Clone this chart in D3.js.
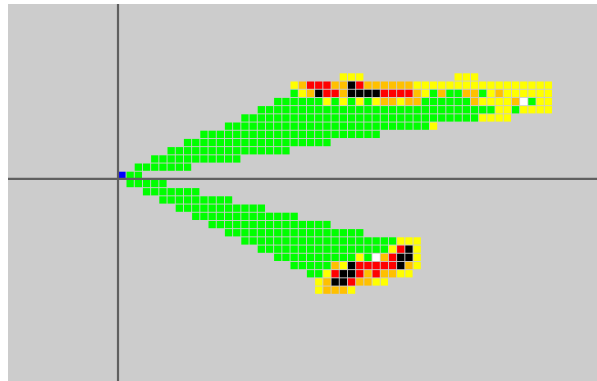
<!DOCTYPE html>
<html>
<head>
<meta charset="utf-8">
<script src="https://cdn.jsdelivr.net/npm/d3@7"></script>
<style>
  body { margin: 0; background: #ffffff; }
</style>
</head>
<body>
<div id="grid"></div>
<script>
// grid rows, top (-12) to bottom (14); row 0 holds the origin cell
var rowIds = [-12, -11, -10, -9, -8, -7, -6, -5, -4, -3, -2, -1, 0,
  1, 2, 3, 4, 5, 6, 7, 8, 9, 10, 11, 12, 13, 14];

// first column of each row
var rowStart = [27, 21, 21, 19, 17, 15, 13, 10, 8, 6, 4, 2, 0,
  1, 3, 5, 7, 9, 11, 13, 15, 17, 19, 21, 23, 24, 24];

// cell states from the first column on
// g=green y=yellow o=orange r=red k=black w=white b=blue .=empty
var rowCells = [
  "yyy...........yyy",
  "yorrrookroooooo" + "yyyyyyyyyyyyyyyyy",
  "gyokrrokkkkrrrr" + "oygoggoogyo" + "yyyyyy",
  "ggggggygygygyooyoo" + "ggggggoyyyyowgyy",
  "ggggggggggggggggggggggggggggg" + "yygyyyy",
  "ggggggggggggggggggggggggggggg" + "yyyy",
  "ggggggggggggggggggggggggg" + "y",
  "gggggggggggggggggggggg",
  "gggggggggggggggggg",
  "ggggggggggggggg",
  "ggggggggggg",
  "ggggggg",
  "bgg",
  "ggggg",
  "ggggggg",
  "ggggggggg",
  "ggggggggggg",
  "ggggggggggggg",
  "ggggggggggggggg",
  "ggggggggggggggggg",
  "ggggggggggggggggggg" + "yyy",
  "gggggggggggggggg" + "yrky",
  "gggggggggg" + "ygworkky",
  "ggggg" + "oykrrrrrkoy",
  "gg" + "yrkkrorooyy",
  "yokkrooyy",
  "yoooy"
];

var stateColor = {
  g: "#00ff00", y: "#ffff00", o: "#ffc000", r: "#ff0000",
  k: "#000000", w: "#ffffff", b: "#0000ff"
};

var width = 597, height = 381;
var pitch = 8.2;
var x0 = 118.3, y0 = 73.3;

var svg = d3.select("#grid")
  .append("svg")
    .attr("width", width)
    .attr("height", height);

// gray canvas
svg.append("rect")
  .attr("x", 8)
  .attr("y", 4)
  .attr("width", width - 8)
  .attr("height", height - 4)
  .attr("fill", "#cccccc");

// flatten rows into cells
var cells = [];
rowIds.forEach(function(r, i) {
  rowCells[i].split("").forEach(function(s, j) {
    if (s != ".") cells.push({ row: r, col: rowStart[i] + j, state: s });
  });
});

var x = d3.scaleLinear()
  .domain([0, 1])
  .range([x0, x0 + pitch]);

var y = d3.scaleLinear()
  .domain([-12, -11])
  .range([y0, y0 + pitch]);

svg.append("g")
  .selectAll("rect")
  .data(cells)
  .enter()
  .append("rect")
    .attr("x", function(d) { return x(d.col); })
    .attr("y", function(d) { return y(d.row); })
    .attr("width", pitch - 0.9)
    .attr("height", pitch - 0.9)
    .attr("fill", function(d) { return stateColor[d.state]; });

// axes through the origin cell
svg.append("line")
  .attr("x1", x(0) - 0.3).attr("x2", x(0) - 0.3)
  .attr("y1", 4).attr("y2", height)
  .attr("stroke", "#5f5f5f")
  .attr("stroke-width", 2.2);

svg.append("line")
  .attr("x1", 8).attr("x2", width)
  .attr("y1", y(1) - 1).attr("y2", y(1) - 1)
  .attr("stroke", "#5f5f5f")
  .attr("stroke-width", 2.2);
</script>
</body>
</html>
